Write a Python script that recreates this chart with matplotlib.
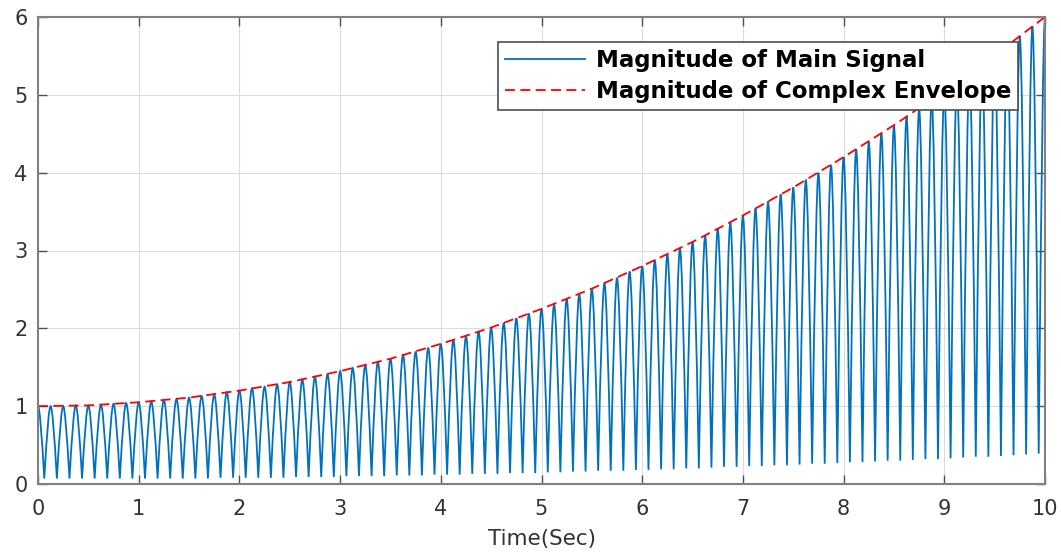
import numpy as np
import matplotlib.pyplot as plt
from matplotlib.path import Path
from matplotlib.patches import PathPatch
from matplotlib.lines import Line2D

# one lobe of |signal| every 0.125 s, peaks (one row per second)
period = 0.125
peaks = [1.00, 1.00, 1.00, 1.01, 1.01, 1.02, 1.03, 1.04,
         1.05, 1.06, 1.08, 1.09, 1.11, 1.13, 1.15, 1.18,
         1.20, 1.23, 1.25, 1.28, 1.31, 1.34, 1.38, 1.41,
         1.45, 1.49, 1.53, 1.57, 1.61, 1.66, 1.70, 1.75,
         1.80, 1.85, 1.90, 1.96, 2.01, 2.07, 2.13, 2.19,
         2.25, 2.31, 2.38, 2.44, 2.51, 2.58, 2.65, 2.73,
         2.80, 2.88, 2.95, 3.03, 3.11, 3.19, 3.28, 3.36,
         3.45, 3.54, 3.63, 3.72, 3.81, 3.91, 4.00, 4.10,
         4.20, 4.30, 4.40, 4.51, 4.61, 4.72, 4.83, 4.94,
         5.05, 5.16, 5.28, 5.39, 5.51, 5.63, 5.75, 5.88,
         6.00]
troughs = [0.07, 0.07, 0.07, 0.07, 0.07, 0.07, 0.07, 0.07,
           0.07, 0.07, 0.07, 0.07, 0.07, 0.07, 0.08, 0.08,
           0.08, 0.08, 0.08, 0.08, 0.09, 0.09, 0.09, 0.09,
           0.10, 0.10, 0.10, 0.10, 0.11, 0.11, 0.11, 0.12,
           0.12, 0.12, 0.13, 0.13, 0.13, 0.14, 0.14, 0.14,
           0.15, 0.15, 0.16, 0.16, 0.17, 0.17, 0.17, 0.18,
           0.18, 0.19, 0.19, 0.20, 0.20, 0.21, 0.22, 0.22,
           0.23, 0.23, 0.24, 0.24, 0.25, 0.26, 0.26, 0.27,
           0.28, 0.28, 0.29, 0.30, 0.30, 0.31, 0.32, 0.32,
           0.33, 0.34, 0.35, 0.35, 0.36, 0.37, 0.38, 0.39]

env_time = [0, 0.5, 1, 1.5, 2, 2.5, 3, 3.5, 4, 4.5, 5,
            5.5, 6, 6.5, 7, 7.5, 8, 8.5, 9, 9.5, 10]
env_mag = [1.0, 1.01, 1.05, 1.11, 1.2, 1.31, 1.45, 1.61, 1.8, 2.01, 2.25,
           2.51, 2.8, 3.11, 3.45, 3.81, 4.2, 4.61, 5.05, 5.51, 6.0]

blue = "#0072BD"

t_peak = np.arange(len(peaks)) * period
t_trough = t_peak[:-1] + period / 2

# rounded tops, sharp bottoms: quadratic curves between the read peaks/troughs
verts = [(t_peak[0], peaks[0])]
codes = [Path.MOVETO]
for k in range(len(troughs)):
    tp, tt, tn = t_peak[k], t_trough[k], t_peak[k + 1]
    verts += [(tp + 0.36 * (tt - tp), peaks[k]), (tt, troughs[k]),
              (tt + 0.64 * (tn - tt), peaks[k + 1]), (tn, peaks[k + 1])]
    codes += [Path.CURVE3] * 4

fig = plt.figure(figsize=(10.61, 5.54), dpi=100)
ax = fig.add_axes([38 / 1061, 70 / 554, 1007 / 1061, 467 / 554])

ax.add_patch(PathPatch(Path(verts, codes), facecolor="none", edgecolor=blue, lw=1.3))
env_line, = ax.plot(env_time, env_mag, color="red", lw=1.3, dashes=(5.5, 3))

ax.set_xlim(0, 10)
ax.set_ylim(0, 6)
ax.set_xticks(range(0, 11))
ax.set_yticks(range(0, 7))
ax.grid(True, color="#dcdcdc", lw=0.8)
ax.set_axisbelow(True)

for s in ax.spines.values():
    s.set_color("#808080")
    s.set_linewidth(1.5)
ax.tick_params(direction="in", top=True, right=True, length=6.5, width=1,
               color="#505050", labelcolor="#333333", labelsize=15)
ax.tick_params(axis="x", pad=11)
ax.tick_params(axis="y", pad=7.5)

ax.set_xlabel("Time(Sec)", fontsize=15.5, color="#333333", labelpad=7)

handles = [Line2D([], [], color=blue, lw=1.3), env_line]
leg = ax.legend(handles, ["Magnitude of Main Signal", "Magnitude of Complex Envelope"],
                loc="upper right", bbox_to_anchor=(0.973, 0.9465), borderaxespad=0,
                prop={"weight": "bold", "size": 16.5}, fancybox=False, framealpha=1,
                edgecolor="#4d4d4d", handlelength=3.5, handletextpad=0.45,
                borderpad=0.3, labelspacing=0.35)
leg.get_frame().set_linewidth(1.2)

fig.savefig("out.png", dpi=100)
